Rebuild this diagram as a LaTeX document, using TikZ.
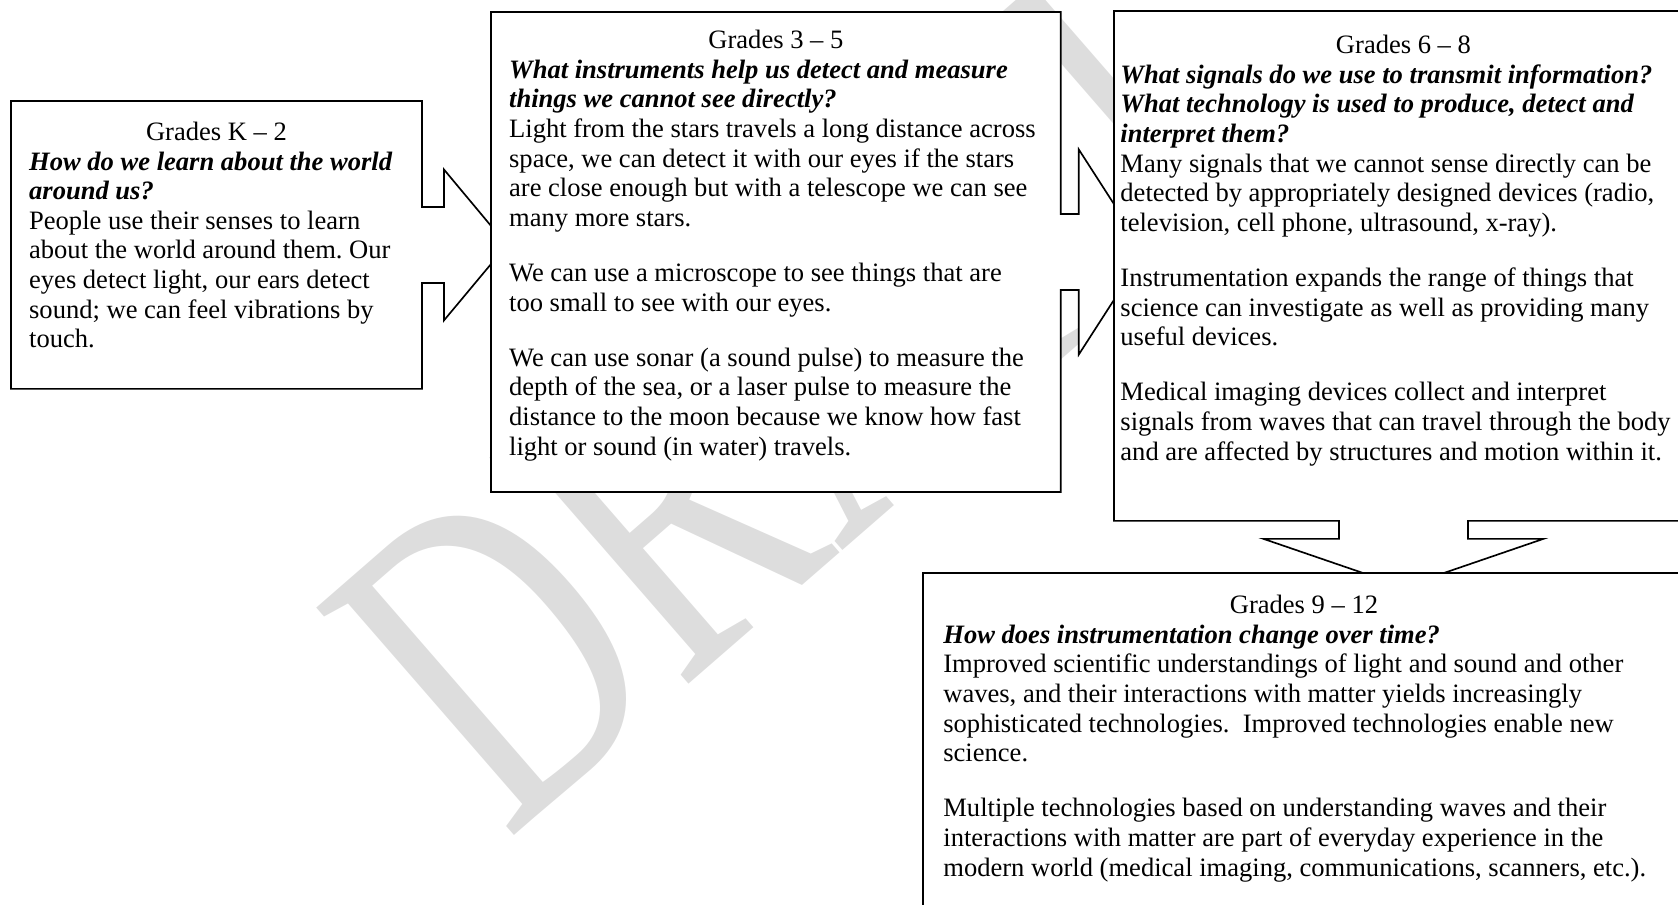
\documentclass[tikz,border=0pt]{standalone}
\usepackage{fontspec}
\setmainfont{Liberation Serif}
\usepackage{xcolor}
\usepackage{tikz}
\usetikzlibrary{calc}
\definecolor{draftgray}{HTML}{DDDDDD}
\pgfdeclarelayer{watermark}
\pgfdeclarelayer{shapes}
\pgfsetlayers{watermark,shapes,main}
\tikzstyle{grade} = [anchor=north west, inner ysep=0pt, font=\fontsize{12pt}{13.4pt}\selectfont]
\tikzstyle{callout} = [draw=black, fill=white, line width=0.75pt, line join=miter]
\frenchspacing

\begin{document}
\begin{tikzpicture}[x=0.4519pt, y=-0.4519pt]
   \useasboundingbox (0,0) rectangle (1678,904);
   \clip (0,0) rectangle (1678,904);
   \node (k2) [grade, inner xsep=8pt] at (11,101) {\begin{minipage}[t][129.7pt][t]{169.3pt}\vspace*{8.2pt}
      {\centering\strut Grades K -- 2\par}\raggedright
      {\bfseries\itshape How do we learn about the world\\ around us?}\\
      People use their senses to learn\\
      about the world around them. Our\\
      eyes detect light, our ears detect\\
      sound; we can feel vibrations by\\
      touch.
   \end{minipage}};
   \node (g35) [grade, inner xsep=8pt] at (491,12) {\begin{minipage}[t][216.5pt][t]{241.1pt}\vspace*{6.9pt}
      {\centering\strut Grades 3 -- 5\par}\raggedright
      {\bfseries\itshape What instruments help us detect and measure\\ things we cannot see directly?}\\
      Light from the stars travels a long distance across\\
      space, we can detect it with our eyes if the stars\\
      are close enough but with a telescope we can see\\
      many more stars.\\[11.5pt]
      We can use a microscope to see things that are\\
      too small to see with our eyes.\\[11.5pt]
      We can use sonar (a sound pulse) to measure the\\
      depth of the sea, or a laser pulse to measure the\\
      distance to the moon because we know how fast\\
      light or sound (in water) travels.
   \end{minipage}};
   \node (g68) [grade, inner xsep=2.7pt] at (1114,11) {\begin{minipage}[t][230pt][t]{255.8pt}\vspace*{9.6pt}
      {\centering\strut Grades 6 -- 8\par}\raggedright
      {\bfseries\itshape What signals do we use to transmit information?\\ What technology is used to produce, detect and\\ interpret them?}\\
      Many signals that we cannot sense directly can be\\
      detected by appropriately designed devices (radio,\\
      television, cell phone, ultrasound, x-ray).\\[11.5pt]
      Instrumentation expands the range of things that\\
      science can investigate as well as providing many\\
      useful devices.\\[11.5pt]
      Medical imaging devices collect and interpret\\
      signals from waves that can travel through the body\\
      and are affected by structures and motion within it.
   \end{minipage}};
   \node (g912) [grade, inner xsep=9pt] at (923,573) {\begin{minipage}[t][161.3pt][t]{325.9pt}\vspace*{8.7pt}
      {\centering\strut Grades 9 -- 12\par}\raggedright
      {\bfseries\itshape How does instrumentation change over time?}\\
      Improved scientific understandings of light and sound and other\\
      waves, and their interactions with matter yields increasingly\\
      sophisticated technologies.\ \ Improved technologies enable new\\
      science.\\[11.5pt]
      Multiple technologies based on understanding waves and their\\
      interactions with matter are part of everyday experience in the\\
      modern world (medical imaging, communications, scanners, etc.).
   \end{minipage}};
   \begin{pgfonlayer}{shapes}
   \draw [callout] (k2.north west) -- (k2.north east) -- ($(k2.east)+(0,-38)$) -- ++(22,0) -- ++(0,-37.5) -- ($(k2.east)+(85,0)$) -- ($(k2.east)+(22,75.5)$) -- ++(0,-37.5) -- ($(k2.east)+(0,38)$) -- (k2.south east) -- (k2.south west) -- cycle;
   \draw [callout] (g35.north west) -- (g35.north east) -- ($(g35.east)+(0,-38)$) -- ++(18,0) -- ++(0,-64.5) -- ($(g35.east)+(84,0)$) -- ($(g35.east)+(18,102.5)$) -- ++(0,-64.5) -- ($(g35.east)+(0,38)$) -- (g35.south east) -- (g35.south west) -- cycle;
   \draw [callout] (g68.north west) -- (g68.north east) -- (g68.south east) -- ($(g68.south)+(64.5,0)$) -- ++(0,18) -- ++(75.5,0) -- ($(g68.south)+(0,66)$) -- ($(g68.south)+(-140,18)$) -- ++(75.5,0) -- ++(0,-18) -- (g68.south west) -- cycle;
   \draw [callout] (g912.north west) rectangle (g912.south east);
   \end{pgfonlayer}
   \begin{pgfonlayer}{watermark}
   \clip (0,0) rectangle (1678,904);
   \node (draft) [anchor=base west, rotate=41, xscale=0.69, inner sep=0pt, text=draftgray, font=\fontsize{208pt}{208pt}\selectfont] at (507,842) {DRAFT};
   \end{pgfonlayer}
\end{tikzpicture}
\end{document}
